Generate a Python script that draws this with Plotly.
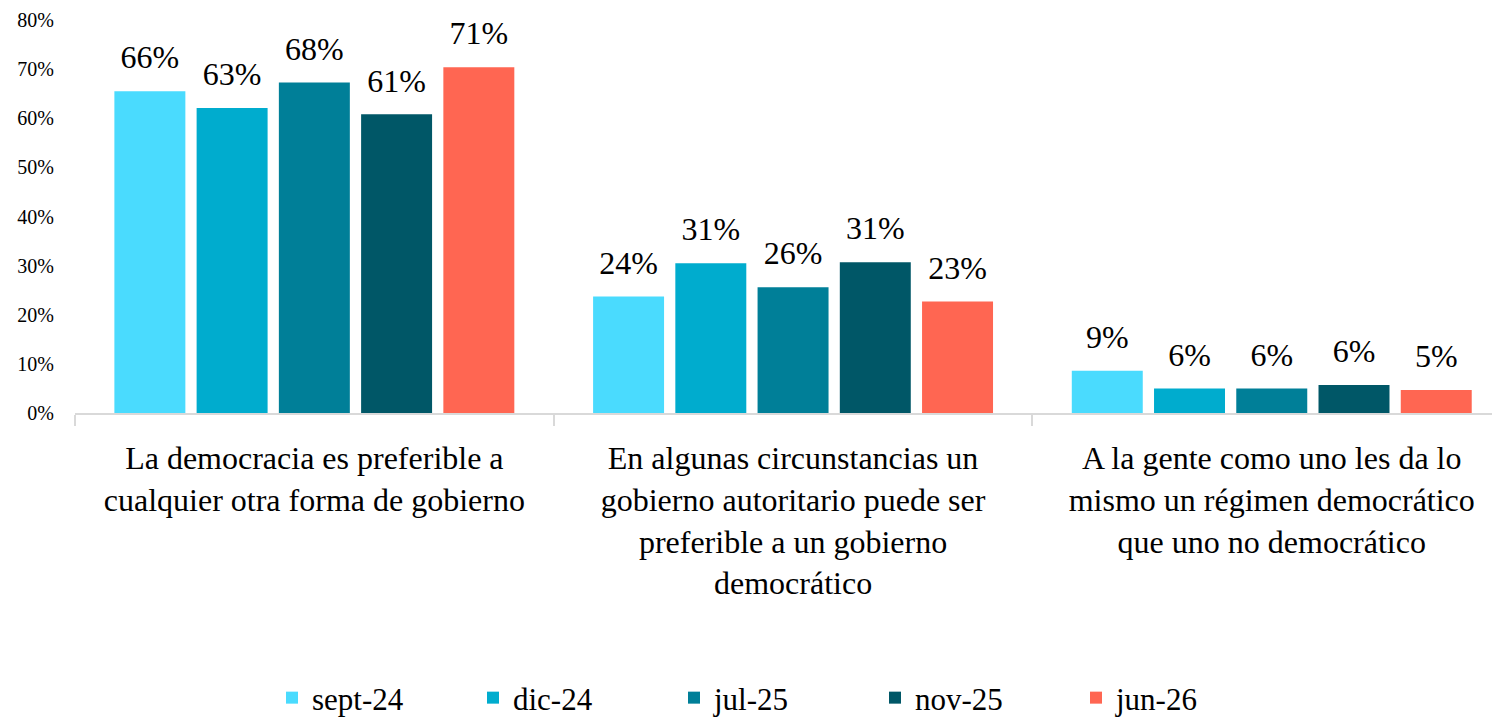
import plotly.graph_objects as go

categories = [
    "La democracia es preferible a<br>cualquier otra forma de gobierno",
    "En algunas circunstancias un<br>gobierno autoritario puede ser<br>preferible a un gobierno<br>democrático",
    "A la gente como uno les da lo<br>mismo un régimen democrático<br>que uno no democrático",
]
series_names = ["sept-24", "dic-24", "jul-25", "nov-25", "jun-26"]
series_colors = ["#4ADBFE", "#00ACCE", "#007F98", "#005767", "#FF6652"]
values = {
    "sept-24": [65.5, 23.7, 8.6],
    "dic-24": [62.1, 30.5, 5.0],
    "jul-25": [67.3, 25.6, 5.0],
    "nov-25": [60.8, 30.7, 5.7],
    "jun-26": [70.4, 22.7, 4.7],
}
labels = {
    "sept-24": ["66%", "24%", "9%"],
    "dic-24": ["63%", "31%", "6%"],
    "jul-25": ["68%", "26%", "6%"],
    "nov-25": ["61%", "31%", "6%"],
    "jun-26": ["71%", "23%", "5%"],
}
y_ticks = [0, 10, 20, 30, 40, 50, 60, 70, 80]

FONT = "Liberation Serif, Times New Roman, serif"

fig = go.Figure()
for name, color in zip(series_names, series_colors):
    fig.add_trace(go.Bar(
        name=name, x=categories, y=values[name],
        marker=dict(color=color, line=dict(width=0)),
        offsetgroup=name, hoverinfo="skip",
    ))
for name in series_names:
    fig.add_trace(go.Scatter(
        x=categories, y=values[name], text=labels[name],
        mode="markers+text", textposition="top center",
        marker=dict(size=22, opacity=0),
        textfont=dict(family=FONT, size=32, color="#000000"),
        offsetgroup=name, showlegend=False, hoverinfo="skip", cliponaxis=False,
    ))

fig.update_layout(
    width=1500, height=717,
    paper_bgcolor="white", plot_bgcolor="white",
    margin=dict(l=67, r=0, t=12, b=312, autoexpand=False),
    barmode="group", bargap=0.141, bargroupgap=0.137,
    scattermode="group", scattergap=0.141,
    font=dict(family=FONT, color="#000000"),
    legend=dict(
        orientation="h", x=0.511, xanchor="center", xref="container",
        y=0.0, yanchor="bottom", yref="container",
        font=dict(family=FONT, size=31, color="#000000"),
        entrywidth=156, entrywidthmode="pixels",
        traceorder="normal",
    ),
    showlegend=True,
)
fig.update_xaxes(
    range=[-0.5, 2.4935], showgrid=False,
    showline=True, linecolor="#D9D9D9", linewidth=2,
    ticks="outside", tickson="boundaries", ticklen=11, tickcolor="#D9D9D9", tickwidth=2,
    tickfont=dict(family=FONT, size=32, color="#000000"),
    ticklabelstandoff=16,
)
fig.update_yaxes(
    range=[0, 80], tickvals=y_ticks, ticktext=[f"{v}%" for v in y_ticks],
    showgrid=False, zeroline=False, showline=False,
    tickfont=dict(family=FONT, size=20, color="#000000"),
    ticklabelstandoff=20,
)

fig.write_html("out.html")
